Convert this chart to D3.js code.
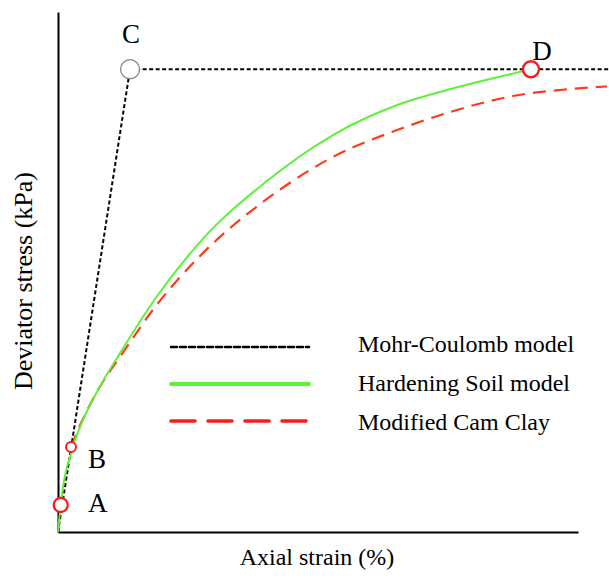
<!DOCTYPE html>
<html lang="en">
<head>
<meta charset="UTF-8" />
<title>Deviator stress vs axial strain</title>
<style>
  * { margin:0; padding:0; box-sizing:border-box; }
  body { background:#fff; width:609px; height:579px; overflow:hidden; }
  svg { display:block; font-family:'Liberation Serif','Times New Roman',serif; }
  .axis path { stroke:#000; stroke-width:2px; }
</style>
</head>
<body>
<script src="https://cdnjs.cloudflare.com/ajax/libs/d3/7.8.5/d3.min.js"></script>
<script>
  // curves (strain units arbitrary, stress in kPa-ish)
  const mcStrain = [0, 2.77, 21.2];
  const mcStress = [0, 445, 445];

  const hsStrain = [0, 0.104, 0.577, 0.962, 1.538, 2.462, 3.731, 5.462, 8.038, 10.577, 13.154, 14.962, 16.615, 18.192];
  const hsStress = [0, 26, 81.7, 107.7, 136.5, 175, 224, 278.8, 337.5, 381.7, 411.5, 425, 435.6, 445];

  const mccStrain = [0.5, 0.923, 1.538, 2.462, 3.731, 5.462, 8.038, 10.577, 13.154, 14.962, 16.231, 17.5, 19.308, 21.115];
  const mccStress = [81.7, 106.7, 136.5, 171.2, 216.3, 265.4, 320.2, 360.6, 387.5, 402.9, 412, 419.2, 425, 428.4];

  const pointNames = ['A', 'B', 'C', 'D'];
  const pointStrain = [0.104, 0.5, 2.77, 18.19];
  const pointStress = [26, 81.7, 445, 445];

  const legendNames = ['Mohr-Coulomb model', 'Hardening Soil model', 'Modified Cam Clay'];

  const W = 609, H = 579;
  const svg = d3.select('body').append('svg').attr('width', W).attr('height', H);

  const x = d3.scaleLinear().domain([0, 20]).range([58, 578]);
  const y = d3.scaleLinear().domain([0, 500]).range([532, 12]);

  svg.append('g').attr('class', 'axis').attr('transform', `translate(0,${y(0)})`)
    .call(d3.axisBottom(x).tickValues([]).tickSizeOuter(0));
  svg.append('g').attr('class', 'axis').attr('transform', `translate(${x(0)},0)`)
    .call(d3.axisLeft(y).tickValues([]).tickSizeOuter(0));

  const zip = (a, b) => a.map((v, i) => [v, b[i]]);
  const line = d3.line().x(d => x(d[0])).y(d => y(d[1]));
  const smooth = d3.line().x(d => x(d[0])).y(d => y(d[1])).curve(d3.curveMonotoneX);

  // Mohr-Coulomb (dotted black)
  svg.append('path').attr('d', line(zip(mcStrain, mcStress)))
    .attr('fill', 'none').attr('stroke', '#000').attr('stroke-width', 2)
    .attr('stroke-dasharray', '4,2.5');
  // Modified Cam Clay (red dashed)
  svg.append('path').attr('d', smooth(zip(mccStrain, mccStress)))
    .attr('fill', 'none').attr('stroke', '#ff3a1a').attr('stroke-width', 2.2)
    .attr('stroke-dasharray', '13,8');
  // Hardening Soil (green)
  svg.append('path').attr('d', smooth(zip(hsStrain, hsStress)))
    .attr('fill', 'none').attr('stroke', '#5ef03a').attr('stroke-width', 2);

  // marked points
  const radius = [7, 5, 9.5, 8];
  const stroke = ['#ff1a1a', '#ff1a1a', '#888', '#ff1a1a'];
  const sw = [2.2, 2, 1.3, 2.4];
  svg.append('g').selectAll('circle').data(pointNames).join('circle')
    .attr('cx', (d, i) => x(pointStrain[i])).attr('cy', (d, i) => y(pointStress[i]))
    .attr('r', (d, i) => radius[i]).attr('fill', '#fff')
    .attr('stroke', (d, i) => stroke[i]).attr('stroke-width', (d, i) => sw[i]);

  const labelDx = [37, 26, 1, 11];
  const labelDy = [7, 21, -26, -9];
  svg.append('g').selectAll('text').data(pointNames).join('text')
    .attr('x', (d, i) => x(pointStrain[i]) + labelDx[i])
    .attr('y', (d, i) => y(pointStress[i]) + labelDy[i])
    .attr('text-anchor', 'middle').attr('font-size', 27).text(d => d);

  // legend
  const legColor = ['#000', '#5ef03a', '#ff1a1a'];
  const legWidth = [2.5, 4, 3.5];
  const legDash = ['6,3', null, '24,13'];
  const lg = svg.append('g').selectAll('g').data(legendNames).join('g')
    .attr('transform', (d, i) => `translate(0,${347 + i * 37})`);
  lg.append('line').attr('x1', 171).attr('x2', 309)
    .attr('stroke', (d, i) => legColor[i]).attr('stroke-width', (d, i) => legWidth[i])
    .attr('stroke-linecap', 'round')
    .attr('stroke-dasharray', (d, i) => legDash[i]);
  lg.append('text').attr('x', 358).attr('y', (d, i) => 5 + i * 2)
    .attr('font-size', 24).text(d => d);

  // axis titles
  svg.append('text').attr('x', 317).attr('y', 565).attr('text-anchor', 'middle')
    .attr('font-size', 24).text('Axial strain (%)');
  svg.append('text').attr('transform', 'translate(32,281) rotate(-90)')
    .attr('text-anchor', 'middle').attr('font-size', 26).text('Deviator stress (kPa)');
</script>
</body>
</html>
